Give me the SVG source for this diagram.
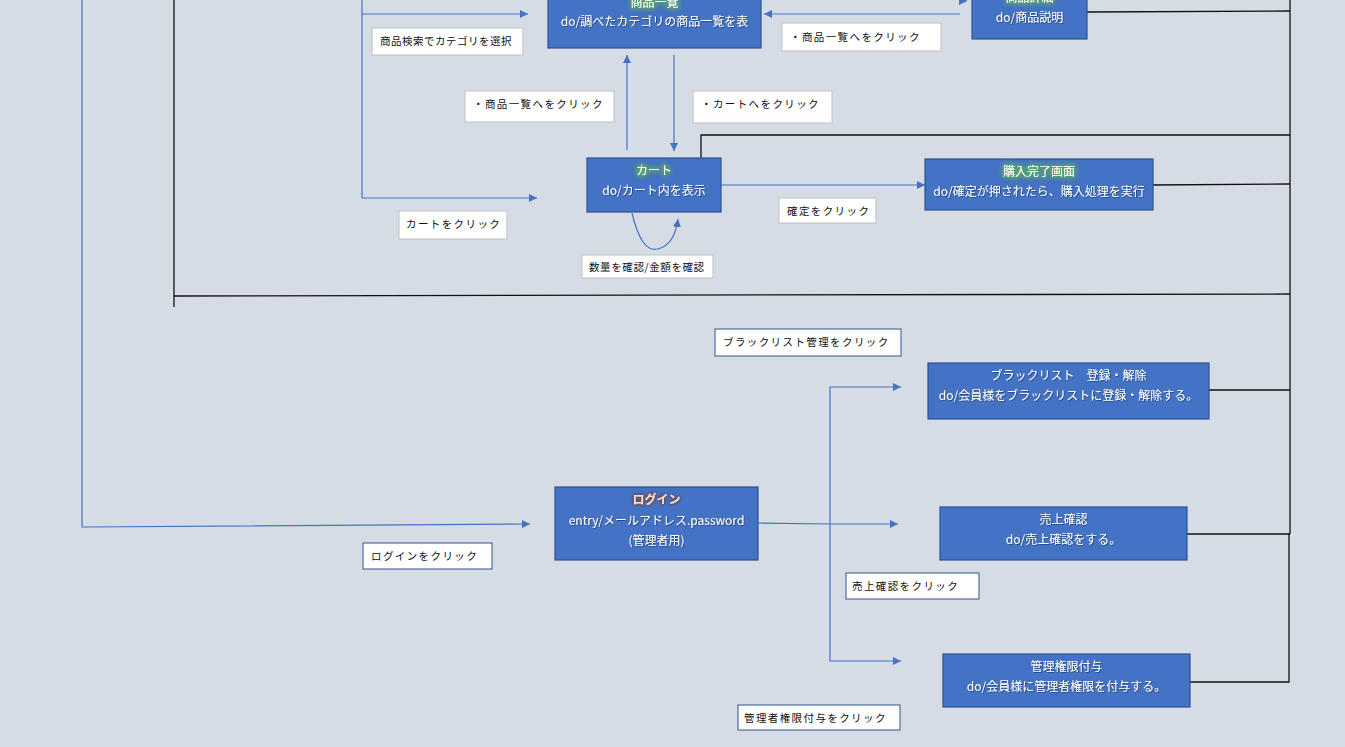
<svg xmlns="http://www.w3.org/2000/svg" width="1345" height="747" viewBox="0 0 1345 747">
<style>
.node rect{fill:#4472c4;stroke:#2f528f;stroke-width:1.2}
.nt{font-family:"Noto Sans CJK JP","Noto Sans",sans-serif;font-size:12px;fill:#fff;text-anchor:middle}
.lb rect{fill:#fff;stroke:#bfbfbf;stroke-width:1}
.lb.d rect{stroke:#2f528f}
.lt{font-family:"Noto Sans CJK JP","Noto Sans",sans-serif;font-size:10.5px;fill:#111;letter-spacing:1.4px}
.bl{fill:none;stroke:#4472c4;stroke-width:1.2}
.bk{fill:none;stroke:#111;stroke-width:1.3}
.arr{marker-end:url(#a)}
</style>
<defs>
<marker id="a" viewBox="0 0 10 10" refX="10" refY="5" markerWidth="8" markerHeight="8" markerUnits="userSpaceOnUse" orient="auto">
<path d="M0,0 L10,5 L0,10 z" fill="#4472c4"/>
</marker>
<filter id="glowG" x="-30%" y="-80%" width="160%" height="260%">
<feMorphology in="SourceAlpha" operator="dilate" radius="0.8" result="m"/>
<feGaussianBlur in="m" stdDeviation="2.5" result="b"/>
<feFlood flood-color="#5aa865" flood-opacity="0.9"/>
<feComposite in2="b" operator="in" result="g"/>
<feMerge><feMergeNode in="g"/><feMergeNode in="g"/><feMergeNode in="SourceGraphic"/></feMerge>
</filter>
<filter id="glowR" x="-30%" y="-60%" width="160%" height="220%">
<feGaussianBlur in="SourceAlpha" stdDeviation="1.5" result="b"/>
<feFlood flood-color="#7a3a20"/>
<feComposite in2="b" operator="in" result="g"/>
<feMerge><feMergeNode in="g"/><feMergeNode in="g"/><feMergeNode in="SourceGraphic"/></feMerge>
</filter>
<filter id="sh" x="-10%" y="-30%" width="120%" height="160%">
<feDropShadow dx="0.8" dy="0.8" stdDeviation="0.6" flood-color="#1f3864" flood-opacity="0.8"/>
</filter>
</defs>
<rect x="0" y="0" width="1345" height="747" fill="#d6dce5"/>

<g id="connectors">
<polyline class="bl arr" points="82,0 82,527 530,524"/>
<polyline class="bl" points="362,0 362,198"/>
<line class="bl arr" x1="362" y1="14" x2="528" y2="14"/>
<line class="bl arr" x1="362" y1="198" x2="537" y2="198"/>
<line class="bl arr" x1="960" y1="14" x2="764" y2="14"/>
<line class="bl arr" x1="959" y1="1" x2="967" y2="1"/>
<line class="bl arr" x1="627" y1="150" x2="627" y2="55"/>
<line class="bl arr" x1="674" y1="55" x2="674" y2="151"/>
<line class="bl arr" x1="721" y1="185" x2="925" y2="185"/>
<path class="bl arr" d="M632,213 C638,238 646,252 658,249 C670,246 676,234 678,219"/>
<polyline class="bl arr" points="758,523 830,524 898,524"/>
<polyline class="bl arr" points="830,387 901,387"/>
<polyline class="bl arr" points="830,387 830,661 901,661"/>
<line class="bk" x1="174" y1="0" x2="174" y2="307"/>
<line class="bk" x1="174" y1="296" x2="1290" y2="294"/>
<line class="bk" x1="1290" y1="0" x2="1290" y2="534"/>
<polyline class="bk" points="1290,534 1289,534 1289,682 1190,682"/>
<line class="bk" x1="1087" y1="12" x2="1290" y2="11"/>
<polyline class="bk" points="701,158 701,135 1290,135"/>
<line class="bk" x1="1153" y1="185" x2="1290" y2="184"/>
<line class="bk" x1="1209" y1="390" x2="1290" y2="390"/>
<line class="bk" x1="1187" y1="534" x2="1290" y2="534"/>
</g>

<g id="node-shohin-ichiran" class="node">
<rect x="548" y="-20" width="213" height="68"/>
<text class="nt" x="654.5" y="7" filter="url(#glowG)">商品一覧</text>
<text class="nt" x="654.5" y="26" filter="url(#sh)">do/調べたカテゴリの商品一覧を表</text>
</g>
<g id="node-shohin-shosai" class="node">
<rect x="972" y="-20" width="115" height="59"/>
<text class="nt" x="1029.5" y="2" filter="url(#glowG)">商品詳細</text>
<text class="nt" x="1029.5" y="22" filter="url(#sh)">do/商品説明</text>
</g>
<g id="node-cart" class="node">
<rect x="587" y="158" width="134" height="54"/>
<text class="nt" x="654" y="175" filter="url(#glowG)">カート</text>
<text class="nt" x="654" y="195" filter="url(#sh)">do/カート内を表示</text>
</g>
<g id="node-kounyu" class="node">
<rect x="925" y="159" width="228" height="51"/>
<text class="nt" x="1039" y="176" filter="url(#glowG)">購入完了画面</text>
<text class="nt" x="1039" y="196" filter="url(#sh)">do/確定が押されたら、購入処理を実行</text>
</g>
<g id="node-blacklist" class="node">
<rect x="928" y="363" width="281" height="56"/>
<text class="nt" x="1068.5" y="380" filter="url(#sh)">ブラックリスト　登録・解除</text>
<text class="nt" x="1068.5" y="400" filter="url(#sh)">do/会員様をブラックリストに登録・解除する。</text>
</g>
<g id="node-login" class="node">
<rect x="555" y="487" width="203" height="73"/>
<text class="nt" x="656.5" y="504" style="fill:#ffe0cc;font-weight:bold" filter="url(#glowR)">ログイン</text>
<text class="nt" x="656.5" y="525" filter="url(#sh)">entry/メールアドレス.password</text>
<text class="nt" x="656.5" y="545" filter="url(#sh)">(管理者用)</text>
</g>
<g id="node-uriage" class="node">
<rect x="940" y="507" width="247" height="53"/>
<text class="nt" x="1063.5" y="524" filter="url(#sh)">売上確認</text>
<text class="nt" x="1063.5" y="544" filter="url(#sh)">do/売上確認をする。</text>
</g>
<g id="node-kanri" class="node">
<rect x="943" y="654" width="247" height="53"/>
<text class="nt" x="1066.5" y="671" filter="url(#sh)">管理権限付与</text>
<text class="nt" x="1066.5" y="691" filter="url(#sh)">do/会員様に管理者権限を付与する。</text>
</g>

<g id="label-category" class="lb"><rect x="372" y="28" width="151" height="27"/><text class="lt" x="380" y="45" style="letter-spacing:0.5px">商品検索でカテゴリを選択</text></g>
<g id="label-ichiran-right" class="lb"><rect x="782" y="23" width="159" height="28"/><text class="lt" x="790" y="41">・商品一覧へをクリック</text></g>
<g id="label-ichiran-mid" class="lb"><rect x="465" y="91" width="149" height="31"/><text class="lt" x="473" y="108">・商品一覧へをクリック</text></g>
<g id="label-cart-to" class="lb"><rect x="693" y="91" width="139" height="32"/><text class="lt" x="701" y="108">・カートへをクリック</text></g>
<g id="label-cart" class="lb"><rect x="399" y="211" width="108" height="28"/><text class="lt" x="406" y="228">カートをクリック</text></g>
<g id="label-kakutei" class="lb"><rect x="779" y="198" width="97" height="25"/><text class="lt" x="787" y="215">確定をクリック</text></g>
<g id="label-suryo" class="lb"><rect x="582" y="255" width="131" height="23"/><text class="lt" x="589" y="271" style="letter-spacing:0.6px">数量を確認/金額を確認</text></g>
<g id="label-blacklist" class="lb d"><rect x="715" y="329" width="186" height="27"/><text class="lt" x="723" y="346">ブラックリスト管理をクリック</text></g>
<g id="label-login" class="lb d"><rect x="363" y="543" width="129" height="26"/><text class="lt" x="371" y="560">ログインをクリック</text></g>
<g id="label-uriage" class="lb d"><rect x="846" y="573" width="133" height="26"/><text class="lt" x="852" y="590">売上確認をクリック</text></g>
<g id="label-kanri" class="lb d"><rect x="738" y="705" width="162" height="25"/><text class="lt" x="744" y="722">管理者権限付与をクリック</text></g>
</svg>
